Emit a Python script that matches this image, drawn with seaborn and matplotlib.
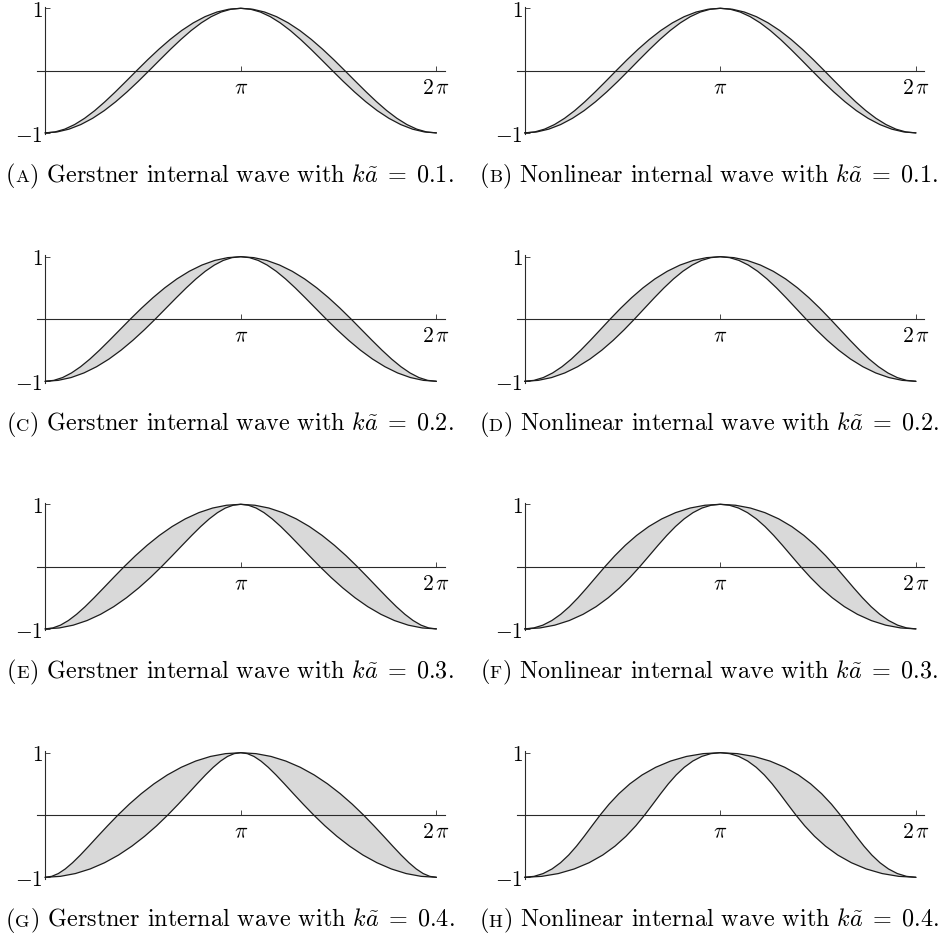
import numpy as np
import matplotlib.pyplot as plt
import seaborn as sns
from matplotlib.offsetbox import TextArea, HPacker, AnnotationBbox

### heights of the sample points on the rising half (same for every panel)
y_levels = [-1.0, -0.985, -0.940, -0.866, -0.766, -0.643, -0.5, -0.342, -0.174, 0.0,
            0.174, 0.342, 0.5, 0.643, 0.766, 0.866, 0.940, 0.985, 1.0]

### x/pi of the outer (left) interface at those heights
outer_A = [0, .0500, .1002, .1508, .2017, .2534, .3057, .3590, .4130, .4682,
           .5242, .5812, .6391, .6978, .7573, .8174, .8780, .9389, 1]
outer_B = [0, .0508, .1018, .1528, .2041, .2558, .3080, .3607, .4142, .4685,
           .5238, .5801, .6375, .6959, .7554, .8157, .8767, .9382, 1]
outer_C = [0, .0445, .0893, .1348, .1813, .2290, .2782, .3291, .3818, .4363,
           .4929, .5513, .6115, .6735, .7369, .8015, .8671, .9334, 1]
outer_D = [0, .0478, .0956, .1433, .1911, .2390, .2873, .3363, .3863, .4379,
           .4914, .5470, .6052, .6659, .7291, .7946, .8619, .9306, 1]
outer_E = [0, .0390, .0785, .1189, .1608, .2046, .2506, .2992, .3504, .4045,
           .4615, .5214, .5840, .6491, .7164, .7856, .8562, .9279, 1]
outer_F = [0, .0468, .0933, .1392, .1844, .2289, .2732, .3178, .3634, .4109,
           .4611, .5147, .5725, .6346, .7011, .7717, .8458, .9222, 1]
outer_G = [0, .0335, .0676, .1030, .1404, .1802, .2231, .2692, .3191, .3727,
           .4302, .4915, .5564, .6247, .6959, .7697, .8453, .9223, 1]
outer_H = [0, .0478, .0948, .1402, .1837, .2252, .2653, .3046, .3445, .3864,
           .4317, .4819, .5380, .6007, .6703, .7462, .8275, .9128, 1]

panels = [outer_A, outer_B, outer_C, outer_D, outer_E, outer_F, outer_G, outer_H]
letters = ["A", "B", "C", "D", "E", "F", "G", "H"]
kinds = ["Gerstner", "Nonlinear"] * 4
ka_vals = ["0.1", "0.1", "0.2", "0.2", "0.3", "0.3", "0.4", "0.4"]

sns.set_style("ticks")
plt.rcParams["font.family"] = ["cmr10", "DejaVu Serif"]
plt.rcParams["mathtext.fontset"] = "cm"
plt.rcParams["axes.unicode_minus"] = False

W, H = 946, 937
fig = plt.figure(figsize=(W / 100, H / 100), dpi=100)

col_left = [37, 516.5]     # px of the left edge of each column
row_top = [9.3, 257.7, 505.3, 753.7]   # px of y=1 in each row
cap_cx = [230, 709]
unit = 62.3                # px per unit of y
xw = 407.5                 # axes width in px

line_col = "#1c1c1c"
fill_col = "#d9d9d9"

y = np.array(y_levels)
for i, outer in enumerate(panels):
    r, c = divmod(i, 2)
    top = row_top[r] - 0.02 * unit
    hgt = 2.04 * unit
    ax = fig.add_axes([col_left[c] / W, 1 - (top + hgt) / H, xw / W, hgt / H])

    # outer interface, rising half then the mirrored falling half
    xo = np.array(outer) * np.pi
    xo_full = np.concatenate([xo, 2 * np.pi - xo[::-1][1:]])
    yo_full = np.concatenate([y, y[::-1][1:]])
    # inner interface is the point reflection of the outer one
    xi = np.pi - xo[::-1]
    yi = -y[::-1]
    xi_full = np.concatenate([xi, 2 * np.pi - xi[::-1][1:]])
    yi_full = np.concatenate([yi, yi[::-1][1:]])

    ax.fill(np.concatenate([xo_full, xi_full[::-1]]),
            np.concatenate([yo_full, yi_full[::-1]]),
            color=fill_col, lw=0, zorder=1)
    sns.lineplot(x=xo_full, y=yo_full, sort=False, estimator=None,
                 color=line_col, lw=0.9, ax=ax, zorder=3)
    sns.lineplot(x=xi_full, y=yi_full, sort=False, estimator=None,
                 color=line_col, lw=0.9, ax=ax, zorder=3)

    ax.set_xlim(-0.13, 2 * np.pi + 0.13)
    ax.set_ylim(-1.02, 1.02)
    for s in ["top", "right"]:
        ax.spines[s].set_visible(False)
    ax.spines["left"].set_position(("data", 0))
    ax.spines["bottom"].set_position(("data", 0))
    for s in ["left", "bottom"]:
        ax.spines[s].set_linewidth(0.8)
        ax.spines[s].set_color("#2a2a2a")
        ax.spines[s].set_zorder(2)
    ax.set_xticks([np.pi, 2 * np.pi])
    ax.set_xticklabels([r"$\pi$", r"$2\,\pi$"])
    ax.set_yticks([-1, 1])
    ax.set_yticklabels([r"$-1$", r"$1$"])
    ax.tick_params(direction="in", length=3.5, width=0.6, labelsize=15.5,
                   colors="#2a2a2a", labelcolor="black")
    ax.tick_params(axis="x", pad=5)
    ax.tick_params(axis="y", pad=1.5)
    ax.set_xlabel("")
    ax.set_ylabel("")
    ax.patch.set_alpha(0)

    # caption with a small-capital panel letter
    big = dict(size=17.4, color="black")
    small = dict(size=13.3, color="black")
    parts = [TextArea("(", textprops=big), TextArea(letters[i], textprops=small),
             TextArea(") " + kinds[i] + " internal wave with $k\\tilde{a}\\;=\\;" + ka_vals[i] + "$.",
                      textprops=big)]
    box = HPacker(children=parts, align="baseline", pad=0, sep=0)
    base = row_top[r] + 2 * unit + 44
    ab = AnnotationBbox(box, (cap_cx[c], H - base - 13), xycoords="figure pixels",
                        box_alignment=(0.5, 0), frameon=False)
    fig.add_artist(ab)

fig.savefig("out.png", dpi=100)
